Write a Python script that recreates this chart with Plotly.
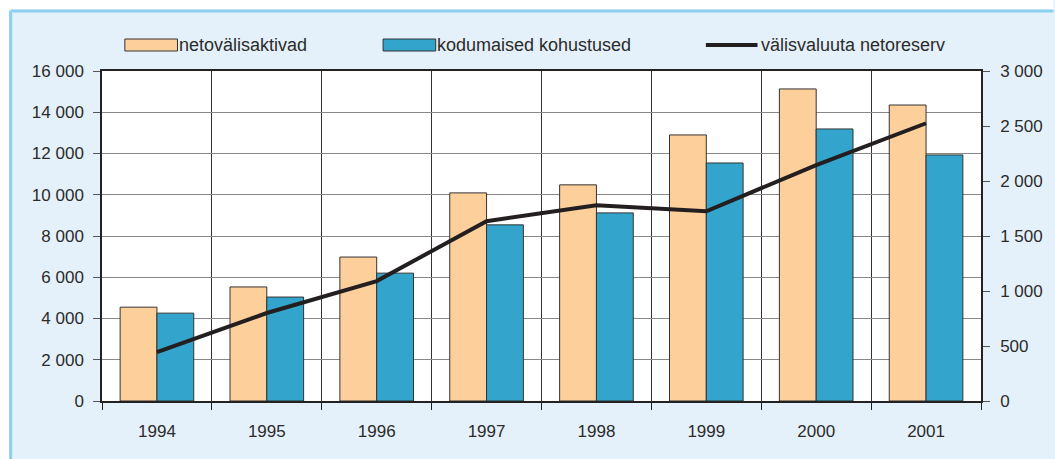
import plotly.graph_objects as go

# ── Data ──────────────────────────────────────────────────────────────────────
years = ["1994", "1995", "1996", "1997", "1998", "1999", "2000", "2001"]
netovalisaktivad = [4550, 5530, 6980, 10090, 10480, 12900, 15130, 14350]
kodumaised_kohustused = [4260, 5040, 6200, 8540, 9120, 11540, 13190, 11930]
netoreserv = [445, 800, 1090, 1635, 1780, 1725, 2145, 2525]

series_names = ["netovälisaktivad", "kodumaised kohustused", "välisvaluuta netoreserv"]
y_left_ticks = [0, 2000, 4000, 6000, 8000, 10000, 12000, 14000, 16000]
y_right_ticks = [0, 500, 1000, 1500, 2000, 2500, 3000]

# ── Theme ─────────────────────────────────────────────────────────────────────
W, H = 1055, 459
L, R, T, B = 102, 68, 71, 58
PEACH = "#fdcf9b"
BLUE = "#33a5cc"
LINE = "#231f20"
BG = "#e5f1fa"
FRAME = "#8ccfef"
TEXT = "#2b2b2b"
FONT = "Liberation Sans, Arial, sans-serif"


def px(x):
    return (x - L) / (W - L - R)


def py(y):
    return (H - B - y) / (H - T - B)


fig = go.Figure()
fig.add_trace(go.Bar(
    x=years, y=netovalisaktivad, name=series_names[0],
    marker=dict(color=PEACH, line=dict(color="#333333", width=1)),
))
fig.add_trace(go.Bar(
    x=years, y=kodumaised_kohustused, name=series_names[1],
    marker=dict(color=BLUE, line=dict(color="#333333", width=1)),
))
fig.add_trace(go.Scatter(
    x=years, y=netoreserv, name=series_names[2], yaxis="y2",
    mode="lines", line=dict(color=LINE, width=4),
))

# white strips outside the light-blue frame, and the frame itself
shapes = [
    dict(type="rect", xref="paper", yref="paper", x0=px(-5), x1=px(W + 5),
         y0=py(9.5), y1=py(-5), fillcolor="white", line_width=0),
    dict(type="rect", xref="paper", yref="paper", x0=px(-5), x1=px(8.5),
         y0=py(H + 5), y1=py(-5), fillcolor="white", line_width=0),
    dict(type="line", xref="paper", yref="paper", x0=px(10), x1=px(W + 5),
         y0=py(11), y1=py(11), line=dict(color=FRAME, width=3)),
    dict(type="line", xref="paper", yref="paper", x0=px(10), x1=px(10),
         y0=py(11), y1=py(H + 5), line=dict(color=FRAME, width=3)),
]

# manual legend (wide swatches)
legend_y = 45
shapes += [
    dict(type="rect", xref="paper", yref="paper", x0=px(125), x1=px(178),
         y0=py(51), y1=py(39), fillcolor=PEACH, line=dict(color="#333333", width=1)),
    dict(type="rect", xref="paper", yref="paper", x0=px(385), x1=px(438),
         y0=py(51), y1=py(39), fillcolor=BLUE, line=dict(color="#333333", width=1)),
    dict(type="line", xref="paper", yref="paper", x0=px(710), x1=px(762),
         y0=py(legend_y), y1=py(legend_y), line=dict(color=LINE, width=4)),
]
annotations = [
    dict(text=name, xref="paper", yref="paper", x=px(xs), y=py(legend_y),
         xanchor="left", yanchor="middle", showarrow=False,
         font=dict(family=FONT, size=18, color=TEXT))
    for name, xs in zip(series_names, [178, 437, 763])
]

fig.update_layout(
    width=W, height=H,
    margin=dict(l=L, r=R, t=T, b=B),
    paper_bgcolor=BG, plot_bgcolor="white",
    font=dict(family=FONT, size=17, color=TEXT),
    separators=", ",
    barmode="group", bargap=0.33, bargroupgap=0,
    showlegend=False,
    shapes=shapes, annotations=annotations,
    xaxis=dict(
        type="category", tickson="boundaries", ticks="outside", ticklen=7,
        tickcolor="#222", showgrid=True, gridcolor="#333", gridwidth=1,
        showline=True, linecolor="#222", linewidth=1.5, mirror=True,
        ticklabelstandoff=14, tickfont=dict(size=17),
    ),
    yaxis=dict(
        range=[0, 16000], tickvals=y_left_ticks, tickformat=",d",
        ticks="outside", ticklen=7, tickcolor="#555",
        showgrid=True, gridcolor="#888", gridwidth=1, zeroline=False,
        showline=True, linecolor="#222", linewidth=1.5,
        ticklabelstandoff=6, tickfont=dict(size=17),
    ),
    yaxis2=dict(
        range=[0, 3000], tickvals=y_right_ticks, tickformat=",d",
        overlaying="y", side="right",
        ticks="outside", ticklen=7, tickcolor="#555",
        showgrid=False, zeroline=False,
        showline=True, linecolor="#222", linewidth=1.5,
        ticklabelstandoff=7, tickfont=dict(size=17),
    ),
)

fig.write_html("out.html", config={"displayModeBar": False},
               post_script="document.body.style.margin='0';")
